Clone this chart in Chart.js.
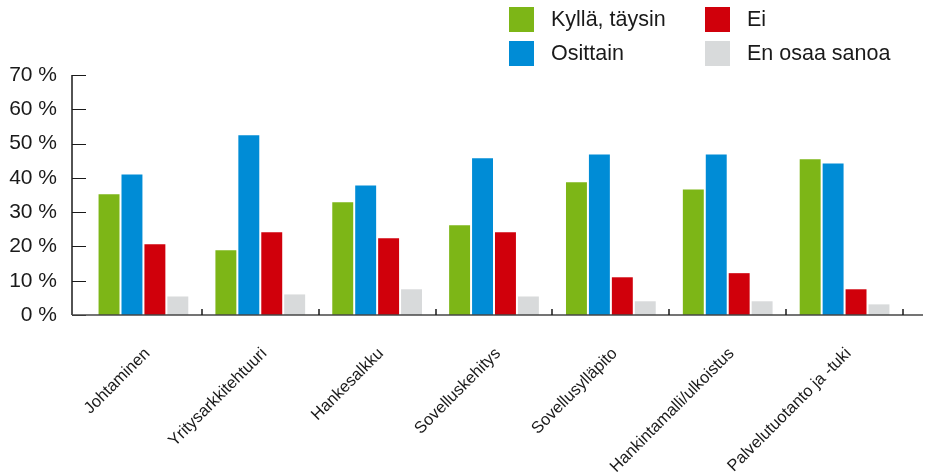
<!DOCTYPE html>
<html>
<head>
<meta charset="utf-8">
<script src="https://cdn.jsdelivr.net/npm/chart.js@4/dist/chart.umd.min.js"></script>
<style>
  html, body { margin: 0; padding: 0; background: #fff; }
  #wrap { position: relative; width: 929px; height: 475px; }
  #legend {
    position: absolute; left: 509px; top: 7px;
    display: grid; grid-template-columns: 196px auto; grid-template-rows: 34px 34px;
    grid-auto-flow: column;
    font-family: "Liberation Sans", Arial, sans-serif; font-size: 21.5px; color: #1a1a1a;
  }
  .item { display: flex; align-items: center; height: 25px; }
  .box { width: 25px; height: 25px; margin-right: 17px; flex: none; }
</style>
</head>
<body>
<div id="wrap">
  <canvas id="chart" width="929" height="475"></canvas>
  <div id="legend"></div>
</div>
<script>
// Kategoriat ja sarjat
const categories = ['Johtaminen', 'Yritysarkkitehtuuri', 'Hankesalkku', 'Sovelluskehitys',
  'Sovellusylläpito', 'Hankintamalli/ulkoistus', 'Palvelutuotanto ja -tuki'];
const kyllaTaysin = [35.2, 18.9, 32.9, 26.2, 38.7, 36.6, 45.4];
const osittain    = [41.0, 52.4, 37.8, 45.7, 46.8, 46.8, 44.2];
const ei          = [20.6, 24.1, 22.4, 24.1, 11.0, 12.2, 7.5];
const enOsaa      = [5.4, 6.0, 7.5, 5.4, 4.0, 4.0, 3.1];
const yTicks      = [0, 10, 20, 30, 40, 50, 60, 70];

const seriesLabels = ['Kyllä, täysin', 'Osittain', 'Ei', 'En osaa sanoa'];
const seriesColors = ['#7db617', '#008cd6', '#d0000b', '#d8dadb'];
const seriesData   = [kyllaTaysin, osittain, ei, enOsaa];

// Akselit piirretään itse (y-akseli hieman piirtoalueen vasemmalla puolella, tikit sisäänpäin)
const axisPlugin = {
  id: 'axisLines',
  afterDatasetsDraw(chart) {
    const { ctx, chartArea, scales: { x, y } } = chart;
    const axisX = chartArea.left - 13;
    const y0 = Math.round(y.getPixelForValue(0));
    ctx.save();

    // pystyakseli + tikit
    ctx.strokeStyle = '#1a1a1a';
    ctx.lineWidth = 1.5;
    ctx.beginPath();
    ctx.moveTo(axisX, y.getPixelForValue(yTicks[yTicks.length - 1]));
    ctx.lineTo(axisX, y0);
    ctx.stroke();
    ctx.lineWidth = 1;
    ctx.beginPath();
    yTicks.forEach(v => {
      const py = Math.round(y.getPixelForValue(v)) + 0.5;
      ctx.moveTo(axisX, py);
      ctx.lineTo(axisX + 14, py);
    });
    ctx.stroke();

    // vaaka-akseli
    ctx.strokeStyle = 'rgba(70,70,70,0.75)';
    ctx.lineWidth = 2;
    ctx.beginPath();
    ctx.moveTo(axisX, y0);
    ctx.lineTo(chartArea.right + 20, y0);
    ctx.stroke();

    // kategoriarajojen tikit
    ctx.strokeStyle = '#1a1a1a';
    ctx.lineWidth = 1.5;
    ctx.beginPath();
    for (let i = 0; i < categories.length; i++) {
      const px = Math.round(x.getPixelForValue(i + 0.5));
      ctx.moveTo(px, y0 - 6);
      ctx.lineTo(px, y0);
    }
    ctx.stroke();
    ctx.restore();
  }
};

const ctx = document.getElementById('chart').getContext('2d');
new Chart(ctx, {
  type: 'bar',
  data: {
    labels: categories,
    datasets: seriesData.map((d, i) => ({
      label: seriesLabels[i],
      data: d,
      backgroundColor: seriesColors[i],
      borderWidth: 0,
      categoryPercentage: 0.785,
      barPercentage: 0.913
    }))
  },
  options: {
    responsive: false,
    animation: false,
    layout: { padding: { top: 75, right: 26, left: 0, bottom: 0 } },
    plugins: {
      legend: { display: false },
      tooltip: { enabled: false }
    },
    scales: {
      x: {
        grid: { display: false, drawTicks: false },
        border: { display: false },
        ticks: {
          maxRotation: 45,
          minRotation: 45,
          padding: 29,
          labelOffset: 4,
          color: '#1a1a1a',
          font: { family: '"Liberation Sans", Arial, sans-serif', size: 16.5 }
        },
        afterFit(scale) { scale.height = 160; }
      },
      y: {
        min: 0,
        max: 70,
        grid: { display: false, drawTicks: false },
        border: { display: false },
        ticks: {
          stepSize: 10,
          padding: 28,
          color: '#1a1a1a',
          font: { family: '"Liberation Sans", Arial, sans-serif', size: 21 },
          callback: v => v + ' %'
        },
        afterFit(scale) { scale.width = 85; }
      }
    }
  },
  plugins: [axisPlugin]
});

// HTML-selite kahteen sarakkeeseen
const legend = document.getElementById('legend');
seriesLabels.forEach((lbl, i) => {
  const el = document.createElement('div');
  el.className = 'item';
  el.innerHTML = `<span class="box" style="background:${seriesColors[i]}"></span><span>${lbl}</span>`;
  legend.appendChild(el);
});
</script>
</body>
</html>
